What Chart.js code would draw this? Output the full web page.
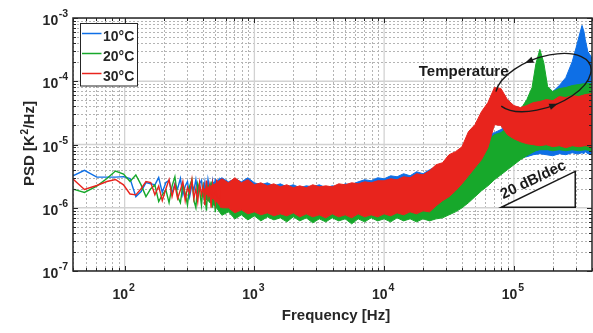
<!DOCTYPE html>
<html><head><meta charset="utf-8">
<script src="https://cdn.jsdelivr.net/npm/chart.js@4.4.1/dist/chart.umd.min.js"></script>
<style>html,body{margin:0;padding:0;background:#fff;}canvas{display:block;}</style>
</head><body>
<canvas id="c" width="593" height="333"></canvas>
<script>
// ---------------- DATA ----------------
const seriesNames = ['10°C', '20°C', '30°C'];

// low-frequency (sparse FFT bins)
const lowFreq = [40,49,61,73,85,98,110,122,134,146,159,171,183,195,208,220,232,244,256,269,281,293,305,317,330,342,354,366,378,391,403,415,427,439,452,464,476,488,500,513,525,537,549];
const blueLow = [3.2e-6,3.9e-6,3.05e-6,3.05e-6,3.05e-6,3.1e-6,2.9e-6,1.5e-6,1.8e-6,2.5e-6,2.4e-6,2.3e-6,3.0e-6,1.75e-6,2.5e-6,2.7e-6,1.7e-6,2.4e-6,2.0e-6,2.9e-6,1.6e-6,2.2e-6,2.6e-6,1.5e-6,2.3e-6,1.9e-6,2.8e-6,1.7e-6,2.4e-6,2.7e-6,1.6e-6,2.5e-6,1.4e-6,2.8e-6,2.0e-6,1.5e-6,2.6e-6,1.8e-6,2.9e-6,1.3e-6,2.3e-6,2.7e-6,1.6e-6];
const greenLow = [1.97e-6,1.75e-6,2.2e-6,2.9e-6,3.8e-6,3.4e-6,2.6e-6,3.3e-6,2.3e-6,1.5e-6,2.0e-6,2.3e-6,1.25e-6,1.6e-6,1.9e-6,1.2e-6,2.2e-6,3.1e-6,1.5e-6,1.2e-6,2.3e-6,1.7e-6,1.1e-6,2.2e-6,2.8e-6,1.3e-6,1.0e-6,2.4e-6,1.9e-6,1.1e-6,2.2e-6,1.6e-6,0.9e-6,2.3e-6,1.2e-6,2.6e-6,1.0e-6,1.9e-6,0.85e-6,2.1e-6,1.4e-6,0.9e-6,2.4e-6];
const redLow = [2.85e-6,1.95e-6,2.25e-6,2.6e-6,2.8e-6,2.3e-6,1.65e-6,1.6e-6,2.0e-6,2.6e-6,2.5e-6,1.6e-6,2.2e-6,1.3e-6,2.0e-6,2.8e-6,1.5e-6,2.3e-6,1.4e-6,1.9e-6,2.6e-6,1.3e-6,2.1e-6,1.7e-6,2.8e-6,1.4e-6,2.0e-6,1.25e-6,2.5e-6,1.6e-6,2.2e-6,1.1e-6,2.7e-6,1.5e-6,2.2e-6,1.0e-6,2.4e-6,1.7e-6,1.2e-6,2.8e-6,1.4e-6,2.1e-6,1.0e-6];

// dense region: upper / lower envelope of the noisy spectrum
const redBandFreq = [400,501,562,631,708,794,891,1000,1122,1259,1413,1585,1778,1995,2239,2512,2818,3162,3548,3981,4467,5012,5623,6310,7079,7943,8913,10000,11220,12589,14125,15849,17783,19953,22387,25119,28184,31623,35481,39811,44668,50119,56234,63096,70795,79433,89125,100000,112202,125893,141254,158489,177828,199526,223872,251189,281838,316228,354813,398107];
const redHi = [1.9e-6,2.4e-6,2.87e-6,2.48e-6,2.98e-6,2.48e-6,2.77e-6,2.31e-6,2.48e-6,2.22e-6,2.39e-6,2.14e-6,2.31e-6,2.07e-6,2.22e-6,2.07e-6,2.31e-6,2.14e-6,2.22e-6,2.14e-6,2.39e-6,2.31e-6,2.48e-6,2.39e-6,2.57e-6,2.48e-6,2.67e-6,2.67e-6,2.87e-6,2.77e-6,3.09e-6,2.98e-6,3.45e-6,3.32e-6,3.84e-6,4.78e-6,5.15e-6,6.89e-6,7.69e-6,9.2e-6,1.6e-5,2.06e-5,3.3e-5,4.6e-5,7.95e-5,7.7e-5,5.13e-5,4.12e-5,3.83e-5,4.12e-5,4.6e-5,4.77e-5,5.13e-5,4.94e-5,5.72e-5,5.51e-5,5.93e-5,5.72e-5,6.15e-5,6.38e-5];
const redLo = [1.8e-6,1.3e-6,1.0e-6,9.96e-7,8.30e-7,9.26e-7,8.01e-7,8.61e-7,7.72e-7,8.30e-7,7.44e-7,8.01e-7,7.44e-7,8.30e-7,7.18e-7,8.01e-7,7.18e-7,7.72e-7,6.92e-7,8.01e-7,7.18e-7,7.72e-7,6.92e-7,8.01e-7,7.18e-7,7.72e-7,7.18e-7,8.01e-7,7.44e-7,8.30e-7,7.72e-7,8.61e-7,8.01e-7,8.93e-7,8.61e-7,1.07e-6,1.29e-6,1.49e-6,1.85e-6,2.39e-6,3.2e-6,4.3e-6,5.74e-6,8.9e-6,2.06e-5,2.0e-5,1.43e-5,1.23e-5,1.11e-5,1.03e-5,9.93e-6,9.57e-6,9.93e-6,9.23e-6,9.57e-6,8.9e-6,9.57e-6,9.23e-6,9.57e-6,9.23e-6];

const greenBandFreq = [400,501,562,631,708,794,891,1000,1122,1259,1413,1585,1778,1995,2239,2512,2818,3162,3548,3981,4467,5012,5623,6310,7079,7943,8913,10000,11220,12589,14125,15849,17783,19953,22387,25119,28184,31623,35481,39811,44668,50119,56234,63096,70795,79433,89125,100000,112202,125893,138038,147911,158489,169824,181970,199526,223872,251189,281838,316228,354813,398107];
const greenHi = [1.6e-6,1.95e-6,1.79e-6,1.99e-6,1.72e-6,1.92e-6,1.66e-6,1.85e-6,1.6e-6,1.79e-6,1.55e-6,1.79e-6,1.6e-6,1.72e-6,1.55e-6,1.79e-6,1.6e-6,1.72e-6,1.55e-6,1.79e-6,1.6e-6,1.79e-6,1.66e-6,1.85e-6,1.72e-6,1.92e-6,1.79e-6,2.0e-6,1.92e-6,2.14e-6,2.07e-6,2.31e-6,2.22e-6,2.48e-6,2.39e-6,2.31e-6,2.48e-6,2.98e-6,3.71e-6,4.78e-6,6.18e-6,8.27e-6,1.03e-5,1.19e-5,1.43e-5,1.54e-5,1.85e-5,2.47e-5,3.56e-5,5.13e-5,7.95e-5,1.91e-4,3.18e-4,1.98e-4,8.24e-5,6.86e-5,7.66e-5,7.95e-5,8.55e-5,8.86e-5,9.19e-5,9.19e-5];
const greenLo = [1.5e-6,1.05e-6,7.6e-7,8.61e-7,6.67e-7,7.72e-7,6.43e-7,7.44e-7,6.20e-7,7.18e-7,6.43e-7,6.92e-7,5.98e-7,7.18e-7,6.20e-7,6.92e-7,5.77e-7,6.67e-7,5.98e-7,6.92e-7,6.20e-7,6.67e-7,5.56e-7,6.67e-7,5.98e-7,6.92e-7,6.20e-7,6.67e-7,5.98e-7,6.92e-7,6.20e-7,6.67e-7,5.98e-7,6.67e-7,6.20e-7,6.67e-7,6.92e-7,7.72e-7,8.61e-7,9.96e-7,1.20e-6,1.49e-6,1.85e-6,2.22e-6,2.77e-6,3.32e-6,3.99e-6,4.78e-6,5.74e-6,6.64e-6,7.41e-6,7.97e-6,8.27e-6,8.27e-6,8.27e-6,7.97e-6,8.27e-6,7.97e-6,8.27e-6,7.97e-6,8.27e-6,7.97e-6];

const blueBandFreq = [400,501,562,631,708,794,891,1000,1122,1259,1413,1585,1778,1995,2239,2512,2818,3162,3548,3981,4467,5012,5623,6310,7079,7943,8913,10000,11220,12589,14125,15849,17783,19953,22387,25119,28184,31623,35481,39811,44668,50119,56234,63096,70795,79433,89125,100000,112202,125893,141254,158489,177828,199526,223872,251189,281838,301995,316228,335000,346737,354813,371535,398107];
const blueHi = [2.1e-6,2.6e-6,2.98e-6,2.57e-6,2.87e-6,2.57e-6,2.98e-6,2.48e-6,2.31e-6,2.48e-6,2.22e-6,2.39e-6,2.14e-6,2.31e-6,2.07e-6,2.22e-6,2.14e-6,2.31e-6,2.07e-6,2.22e-6,2.14e-6,2.39e-6,2.31e-6,2.57e-6,2.77e-6,2.67e-6,2.98e-6,2.87e-6,3.20e-6,3.09e-6,3.45e-6,3.20e-6,3.71e-6,3.45e-6,3.99e-6,4.45e-6,4.78e-6,5.74e-6,6.41e-6,8.27e-6,9.93e-6,1.19e-5,1.33e-5,1.43e-5,1.54e-5,1.72e-5,2.06e-5,2.30e-5,2.97e-5,3.56e-5,4.43e-5,5.13e-5,6.15e-5,6.86e-5,8.55e-5,1.14e-4,2.05e-4,3.42e-4,4.93e-4,7.63e-4,6.13e-4,4.58e-4,2.95e-4,2.37e-4];
const blueLo = [2.0e-6,1.5e-6,1.11e-6,1.29e-6,1.07e-6,1.20e-6,9.96e-7,1.11e-6,9.61e-7,1.07e-6,9.26e-7,1.03e-6,9.26e-7,1.03e-6,8.93e-7,9.96e-7,8.93e-7,9.96e-7,9.26e-7,1.03e-6,9.26e-7,9.96e-7,8.93e-7,1.03e-6,9.26e-7,1.03e-6,9.61e-7,1.07e-6,9.61e-7,1.07e-6,9.96e-7,1.11e-6,1.03e-6,1.15e-6,1.11e-6,1.20e-6,1.33e-6,1.49e-6,1.66e-6,1.92e-6,2.31e-6,2.77e-6,3.20e-6,3.71e-6,4.29e-6,4.78e-6,5.34e-6,5.74e-6,6.18e-6,6.41e-6,6.89e-6,7.15e-6,6.89e-6,6.64e-6,7.15e-6,6.89e-6,7.41e-6,7.15e-6,7.15e-6,7.41e-6,7.15e-6,7.69e-6,7.15e-6,6.89e-6];

// axis ticks
const xTickValues = [100, 1000, 10000, 100000];
const xTickExp = ['2', '3', '4', '5'];
const yTickValues = [1e-7, 1e-6, 1e-5, 1e-4, 1e-3];
const yTickExp = ['-7', '-6', '-5', '-4', '-3'];

// ---------------- STYLE ----------------
const COLORS = ['#0e6fe6', '#17a82b', '#e8241d'];
const FONT = '"Liberation Sans", Arial, Helvetica, sans-serif';
const TXT = '#262626';

function pts(f, v) { return f.map((x, i) => ({x: x, y: v[i]})); }
function band(f, hi, lo) {
  const up = f.map((x, i) => ({x: x, y: hi[i]}));
  const dn = f.map((x, i) => ({x: x, y: lo[i]})).reverse();
  return up.concat(dn);
}
function lineDs(data, color) {
  return {data, showLine: true, borderColor: color, backgroundColor: color, borderWidth: 1.4, pointRadius: 0, fill: false};
}
function bandDs(data, color) {
  return {data, showLine: true, borderColor: color, backgroundColor: color, borderWidth: 1, pointRadius: 0, fill: 'shape'};
}

// annotations (data-space anchors)
const annot = {
  tempText: {f: 18480, p: 1.23e-4, text: 'Temperature'},
  ellipse: {f: 168500, p: 9.54e-5, rx: 50, ry: 25, rot: -20},
  tri: {f1: 80000, f2: 297000, p1: 1.02e-6, p2: 3.75e-6, text: '20 dB/dec'}
};

const decor = {
  id: 'decor',
  beforeDatasetsDraw(chart) {
    const {ctx, chartArea: a, scales: {x, y}} = chart;
    ctx.save();
    ctx.beginPath(); ctx.rect(a.left, a.top, a.right - a.left, a.bottom - a.top); ctx.clip();
    // minor grid
    ctx.strokeStyle = '#b4b4b4'; ctx.lineWidth = 1; ctx.setLineDash([2, 2]);
    for (let k = 1; k <= 5; k++) for (let m = 2; m <= 9; m++) {
      const v = m * Math.pow(10, k); if (v < 40 || v > 4e5) continue;
      const px = Math.round(x.getPixelForValue(v)) + 0.5;
      ctx.beginPath(); ctx.moveTo(px, a.top); ctx.lineTo(px, a.bottom); ctx.stroke();
    }
    for (let k = -7; k <= -4; k++) for (let m = 2; m <= 9; m++) {
      const v = m * Math.pow(10, k);
      const py = Math.round(y.getPixelForValue(v)) + 0.5;
      ctx.beginPath(); ctx.moveTo(a.left, py); ctx.lineTo(a.right, py); ctx.stroke();
    }
    // major grid
    ctx.setLineDash([]); ctx.strokeStyle = '#d2d2d2'; ctx.lineWidth = 1.3;
    xTickValues.forEach(v => { const px = x.getPixelForValue(v); ctx.beginPath(); ctx.moveTo(px, a.top); ctx.lineTo(px, a.bottom); ctx.stroke(); });
    yTickValues.forEach(v => { const py = y.getPixelForValue(v); ctx.beginPath(); ctx.moveTo(a.left, py); ctx.lineTo(a.right, py); ctx.stroke(); });
    ctx.restore();
  },
  afterDatasetsDraw(chart) {
    const {ctx, chartArea: a, scales: {x, y}} = chart;
    ctx.save();
    // box
    ctx.strokeStyle = TXT; ctx.lineWidth = 1.5;
    ctx.strokeRect(a.left, a.top, a.right - a.left, a.bottom - a.top);
    // ticks
    ctx.lineWidth = 1;
    const tick = (x1, y1, x2, y2) => { ctx.beginPath(); ctx.moveTo(x1, y1); ctx.lineTo(x2, y2); ctx.stroke(); };
    for (let k = 1; k <= 5; k++) for (let m = 1; m <= 9; m++) {
      const v = m * Math.pow(10, k); if (v < 40 || v > 4e5) continue;
      const px = Math.round(x.getPixelForValue(v)) + 0.5; const L = m === 1 ? 5 : 3;
      tick(px, a.bottom, px, a.bottom - L); tick(px, a.top, px, a.top + L);
    }
    for (let k = -7; k <= -3; k++) for (let m = 1; m <= 9; m++) {
      const v = m * Math.pow(10, k); if (v > 1e-3) continue;
      const py = Math.round(y.getPixelForValue(v)) + 0.5; const L = m === 1 ? 5 : 3;
      tick(a.left, py, a.left + L, py); tick(a.right, py, a.right - L, py);
    }
    // tick labels
    ctx.fillStyle = TXT; ctx.textBaseline = 'alphabetic';
    const fBase = 'bold 14px ' + FONT, fExp = 'bold 10.5px ' + FONT;
    yTickValues.forEach((v, i) => {
      const py = y.getPixelForValue(v);
      ctx.font = fExp; const we = ctx.measureText(yTickExp[i]).width;
      ctx.textAlign = 'right'; ctx.fillText(yTickExp[i], 68, py - 1);
      ctx.font = fBase; ctx.fillText('10', 68 - we - 0.5, py + 7);
    });
    xTickValues.forEach((v, i) => {
      const px = x.getPixelForValue(v);
      ctx.font = fBase; const wb = ctx.measureText('10').width;
      ctx.font = fExp; const we = ctx.measureText(xTickExp[i]).width;
      const start = px - (wb + we + 1) / 2 - 1;
      ctx.textAlign = 'left';
      ctx.font = fBase; ctx.fillText('10', start, 299);
      ctx.font = fExp; ctx.fillText(xTickExp[i], start + wb + 1, 290.5);
    });
    // axis titles
    ctx.font = 'bold 15px ' + FONT; ctx.textAlign = 'center';
    ctx.fillText('Frequency [Hz]', 336, 320);
    ctx.save();
    ctx.translate(34, 143.5); ctx.rotate(-Math.PI / 2);
    const fT = 'bold 15px ' + FONT, fS = 'bold 10px ' + FONT;
    ctx.textAlign = 'left';
    ctx.font = fT; const w1 = ctx.measureText('PSD [K').width, w3 = ctx.measureText('/Hz]').width;
    ctx.font = fS; const w2 = ctx.measureText('2').width;
    let sx = -(w1 + w2 + w3 + 1) / 2;
    ctx.font = fT; ctx.fillText('PSD [K', sx, 0);
    ctx.font = fS; ctx.fillText('2', sx + w1 + 0.5, -6);
    ctx.font = fT; ctx.fillText('/Hz]', sx + w1 + w2 + 1, 0);
    ctx.restore();

    // annotations
    ctx.fillStyle = '#1a1a1a'; ctx.strokeStyle = '#1a1a1a';
    ctx.font = 'bold 15px ' + FONT; ctx.textAlign = 'left';
    ctx.fillText(annot.tempText.text, x.getPixelForValue(annot.tempText.f), y.getPixelForValue(annot.tempText.p));
    const E = annot.ellipse;
    const cx = x.getPixelForValue(E.f), cy = y.getPixelForValue(E.p), ph = E.rot * Math.PI / 180;
    ctx.lineWidth = 1.4;
    ctx.beginPath(); ctx.ellipse(cx, cy, E.rx, E.ry, ph, -162 * Math.PI / 180, 162 * Math.PI / 180, false); ctx.stroke();
    const arrowAt = (tdeg) => {
      const t = tdeg * Math.PI / 180;
      const u = E.rx * Math.cos(t), w = E.ry * Math.sin(t);
      const px = cx + u * Math.cos(ph) - w * Math.sin(ph), py = cy + u * Math.sin(ph) + w * Math.cos(ph);
      const du = E.rx * Math.sin(t), dw = -E.ry * Math.cos(t);
      let dx = du * Math.cos(ph) - dw * Math.sin(ph), dy = du * Math.sin(ph) + dw * Math.cos(ph);
      const n = Math.hypot(dx, dy); dx /= n; dy /= n;
      ctx.beginPath();
      ctx.moveTo(px + dx * 4.5, py + dy * 4.5);
      ctx.lineTo(px - dx * 4 - dy * 3.2, py - dy * 4 + dx * 3.2);
      ctx.lineTo(px - dx * 4 + dy * 3.2, py - dy * 4 - dx * 3.2);
      ctx.closePath(); ctx.fill();
    };
    arrowAt(-97); arrowAt(88);
    const T = annot.tri;
    const x1 = x.getPixelForValue(T.f1), x2 = x.getPixelForValue(T.f2), y1 = y.getPixelForValue(T.p1), y2 = y.getPixelForValue(T.p2);
    ctx.fillStyle = '#ffffff';
    ctx.beginPath(); ctx.moveTo(x1, y1); ctx.lineTo(x2, y1); ctx.lineTo(x2, y2); ctx.closePath(); ctx.fill();
    ctx.lineWidth = 1.5; ctx.stroke();
    ctx.fillStyle = '#1a1a1a';
    ctx.save();
    const ang = Math.atan2(y2 - y1, x2 - x1);
    ctx.translate(x1 + 2, y1 - 8); ctx.rotate(ang);
    ctx.font = 'bold 15px ' + FONT; ctx.textAlign = 'left';
    ctx.fillText(T.text, 0, 0);
    ctx.restore();

    // legend
    ctx.fillStyle = '#ffffff'; ctx.strokeStyle = TXT; ctx.lineWidth = 1;
    ctx.fillRect(80.5, 23.5, 57, 62.5); ctx.strokeRect(80.5, 23.5, 57, 62.5);
    seriesNames.forEach((name, i) => {
      const ly = 33.5 + i * 20;
      ctx.strokeStyle = COLORS[i]; ctx.lineWidth = 1.5;
      ctx.beginPath(); ctx.moveTo(82, ly); ctx.lineTo(101.5, ly); ctx.stroke();
      ctx.fillStyle = TXT; ctx.font = 'bold 14px ' + FONT; ctx.textAlign = 'left';
      ctx.fillText(name, 103, 40.5 + i * 20);
    });
    ctx.restore();
  }
};

new Chart(document.getElementById('c'), {
  type: 'scatter',
  data: {
    datasets: [
      lineDs(pts(lowFreq, redLow), COLORS[2]),
      bandDs(band(redBandFreq, redHi, redLo), COLORS[2]),
      lineDs(pts(lowFreq, greenLow), COLORS[1]),
      bandDs(band(greenBandFreq, greenHi, greenLo), COLORS[1]),
      lineDs(pts(lowFreq, blueLow), COLORS[0]),
      bandDs(band(blueBandFreq, blueHi, blueLo), COLORS[0])
    ]
  },
  options: {
    responsive: false, animation: false, devicePixelRatio: 1,
    layout: {padding: {left: 73, right: 1, top: 18, bottom: 62}},
    scales: {
      x: {type: 'logarithmic', min: 40, max: 4e5, display: false},
      y: {type: 'logarithmic', min: 1e-7, max: 1e-3, display: false}
    },
    plugins: {legend: {display: false}, tooltip: {enabled: false}},
    elements: {point: {radius: 0}, line: {tension: 0}}
  },
  plugins: [decor]
});
</script>
</body></html>
